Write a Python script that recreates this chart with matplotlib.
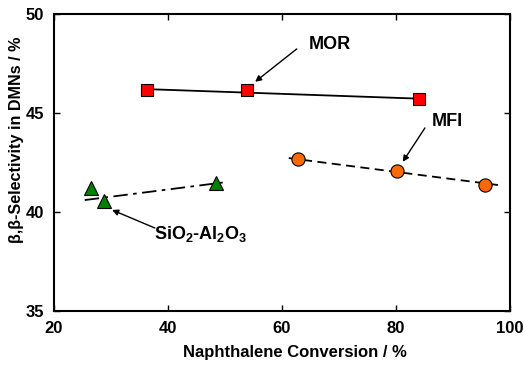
import matplotlib
matplotlib.use("Agg")
import matplotlib.pyplot as plt

plt.rcParams["font.family"] = ["Liberation Sans", "DejaVu Sans"]
plt.rcParams["font.weight"] = "bold"
plt.rcParams["mathtext.fontset"] = "custom"
plt.rcParams["mathtext.bf"] = "Liberation Sans:bold"
plt.rcParams["mathtext.rm"] = "Liberation Sans:bold"

# measured points
mor_x = [36.3, 53.9, 84.0]
mor_y = [46.18, 46.16, 45.7]
mfi_x = [62.8, 80.2, 95.6]
mfi_y = [42.65, 42.08, 41.38]
sio_x = [26.5, 28.8, 48.4]
sio_y = [41.2, 40.55, 41.45]

# trend lines (end points)
mor_line_x = [36.3, 84.0]
mor_line_y = [46.2, 45.72]
mfi_line_x = [61.2, 97.9]
mfi_line_y = [42.72, 41.36]
sio_line_x = [25.4, 50.0]
sio_line_y = [40.6, 41.5]

# labels: (text, text pos, arrow start, arrow tip)
labels = ["MOR", "MFI", r"SiO$_\mathbf{2}$-Al$_\mathbf{2}$O$_\mathbf{3}$"]
label_pos = [(68.4, 48.43), (89.0, 44.55), (45.8, 38.89)]
arrow_from = [(62.6, 48.23), (85.1, 44.24), (37.7, 39.19)]
arrow_to = [(55.3, 46.57), (81.2, 42.53), (30.2, 40.1)]

fig = plt.figure(figsize=(5.24, 3.65), dpi=100)
ax = fig.add_axes([0.103, 0.148, 0.870, 0.814])

ax.plot(mor_line_x, mor_line_y, color="black", lw=1.3, ls="-")
ax.plot(mfi_line_x, mfi_line_y, color="black", lw=1.3, ls=(0, (5, 3)))
ax.plot(sio_line_x, sio_line_y, color="black", lw=1.3, ls=(0, (8, 3, 2, 3)))

ax.plot(mor_x, mor_y, ls="none", marker="s", ms=9, mfc="#ff0000", mec="black", mew=0.8)
ax.plot(mfi_x, mfi_y, ls="none", marker="o", ms=9.5, mfc="#ff6a00", mec="black", mew=0.8)
ax.plot(sio_x, sio_y, ls="none", marker="^", ms=10, mfc="#008000", mec="black", mew=0.8)

for text, pos, start, tip in zip(labels, label_pos, arrow_from, arrow_to):
    ax.text(pos[0], pos[1], text, fontsize=13, fontweight="bold", ha="center", va="center")
    ax.annotate("", xy=tip, xytext=start,
                arrowprops=dict(arrowstyle="-|>", color="black", lw=1.0,
                                mutation_scale=9, shrinkA=0, shrinkB=0))

ax.set_xlim(20, 100)
ax.set_ylim(35, 50)
ax.set_xticks([20, 40, 60, 80, 100])
ax.set_yticks([35, 40, 45, 50])
ax.tick_params(direction="in", top=True, right=True, length=4, width=1.0, labelsize=12, pad=7)
for s in ax.spines.values():
    s.set_linewidth(1.5)
for lab in ax.get_xticklabels() + ax.get_yticklabels():
    lab.set_fontweight("bold")

ax.set_xlabel("Naphthalene Conversion / %", fontsize=12, fontweight="bold", labelpad=6)
ax.xaxis.set_label_coords(0.528, -0.115)
ax.set_ylabel("β,β-Selectivity in DMNs / %", fontsize=11.6, fontweight="bold")
ax.yaxis.set_label_coords(-0.066, 0.576)

fig.savefig("out.png", dpi=100)
